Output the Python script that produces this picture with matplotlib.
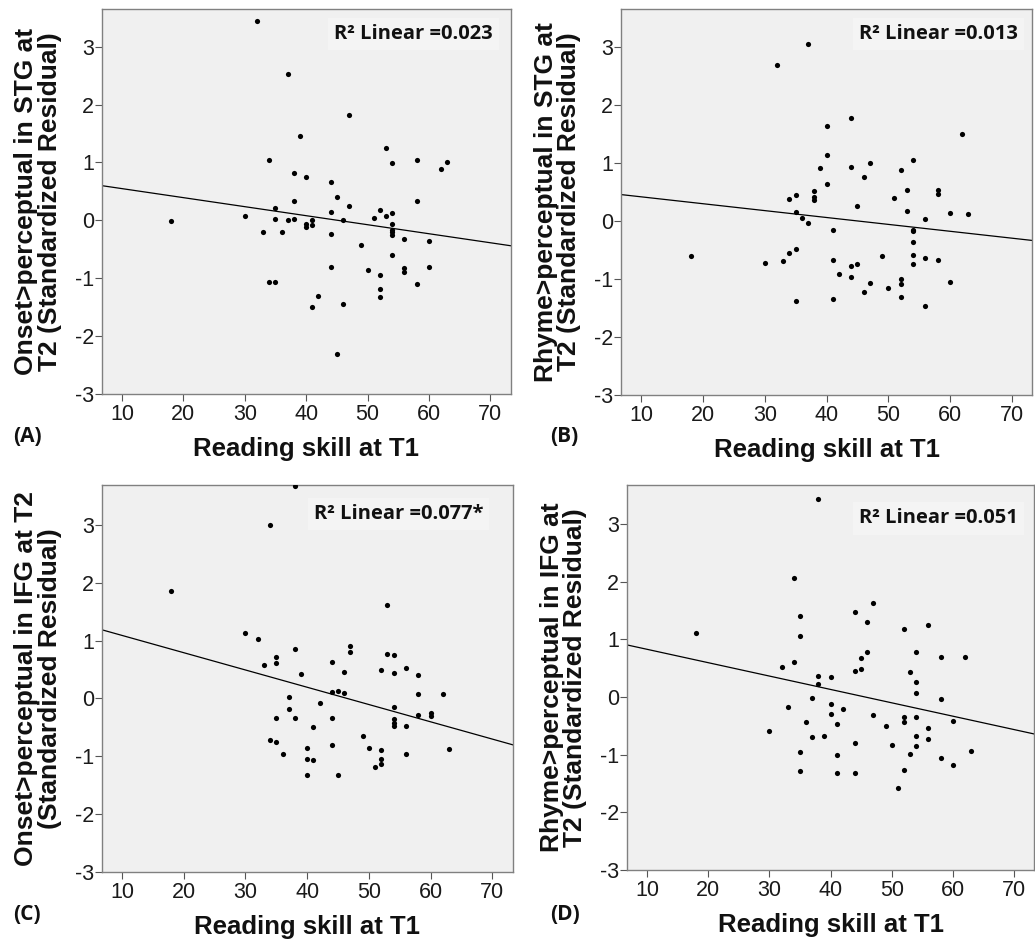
import numpy as np
import matplotlib
matplotlib.use('Agg')
import matplotlib.pyplot as plt

plt.rcParams['axes.unicode_minus'] = False

# ---------------- data ----------------
# Panel A: Onset>perceptual in STG
a_x = [32, 37, 47, 39, 53, 34, 54, 58, 62, 63, 38, 40, 44, 45, 38, 58, 35, 47, 52, 44,
       54, 30, 53, 51, 18, 35, 37, 38, 41, 46, 40, 40, 41, 54, 54, 54, 54, 33, 36, 44,
       56, 60, 49, 54, 44, 50, 56, 56, 60, 52, 34, 35, 58, 52, 42, 52, 41, 46, 45]
a_y = [3.44, 2.52, 1.82, 1.46, 1.25, 1.04, 0.99, 1.04, 0.89, 1.00, 0.82, 0.74, 0.66, 0.41,
       0.33, 0.34, 0.22, 0.24, 0.18, 0.14, 0.13, 0.07, 0.07, 0.04, -0.02, 0.02, 0.00, 0.02,
       0.00, 0.01, -0.06, -0.12, -0.08, -0.06, -0.16, -0.20, -0.25, -0.20, -0.21, -0.24,
       -0.33, -0.35, -0.42, -0.60, -0.81, -0.86, -0.82, -0.89, -0.81, -0.94, -1.07, -1.06,
       -1.10, -1.18, -1.30, -1.33, -1.49, -1.44, -2.31]

# Panel B: Rhyme>perceptual in STG
b_x = [37, 32, 44, 40, 62, 40, 54, 39, 44, 47, 46, 52, 40, 38, 38, 38, 53, 58, 58, 34,
       35, 51, 45, 35, 53, 60, 63, 36, 37, 56, 41, 54, 54, 54, 35, 34, 18, 30, 33, 41,
       49, 54, 54, 56, 58, 44, 45, 42, 44, 47, 52, 52, 60, 50, 46, 35, 41, 52, 56]
b_y = [3.05, 2.68, 1.77, 1.64, 1.49, 1.13, 1.04, 0.91, 0.92, 0.99, 0.75, 0.87, 0.64, 0.51,
       0.41, 0.36, 0.54, 0.54, 0.47, 0.37, 0.44, 0.40, 0.25, 0.16, 0.17, 0.13, 0.12, 0.05,
       -0.04, 0.04, -0.15, -0.15, -0.18, -0.36, -0.49, -0.55, -0.61, -0.72, -0.69, -0.68,
       -0.60, -0.59, -0.74, -0.64, -0.68, -0.78, -0.74, -0.91, -0.97, -1.07, -1.01, -1.09,
       -1.06, -1.16, -1.23, -1.38, -1.34, -1.32, -1.47]

# Panel C: Onset>perceptual in IFG
c_x = [38, 34, 18, 53, 30, 32, 38, 47, 47, 35, 35, 33, 44, 53, 54, 52, 56, 46, 54, 58,
       39, 44, 45, 46, 58, 62, 37, 42, 37, 54, 35, 38, 44, 54, 54, 54, 58, 60, 60, 41,
       56, 49, 34, 35, 44, 40, 50, 52, 63, 36, 56, 40, 41, 52, 52, 51, 40, 45]
c_y = [3.68, 3.00, 1.85, 1.62, 1.13, 1.02, 0.85, 0.90, 0.80, 0.72, 0.61, 0.58, 0.63, 0.76,
       0.75, 0.50, 0.53, 0.46, 0.44, 0.41, 0.42, 0.11, 0.13, 0.10, 0.08, 0.07, 0.02, -0.08,
       -0.19, -0.14, -0.33, -0.34, -0.33, -0.36, -0.43, -0.47, -0.29, -0.25, -0.30, -0.50,
       -0.48, -0.65, -0.71, -0.76, -0.81, -0.85, -0.85, -0.89, -0.88, -0.96, -0.96, -1.04,
       -1.07, -1.05, -1.14, -1.19, -1.32, -1.33]

# Panel D: Rhyme>perceptual in IFG
d_x = [38, 34, 47, 44, 35, 46, 56, 52, 18, 35, 54, 46, 58, 62, 45, 34, 32, 45, 44, 53,
       38, 40, 38, 54, 54, 37, 58, 40, 33, 42, 40, 47, 52, 52, 54, 60, 36, 41, 49, 56,
       30, 37, 39, 54, 56, 44, 50, 54, 35, 41, 53, 63, 58, 60, 35, 41, 44, 52, 51]
d_y = [3.44, 2.06, 1.64, 1.48, 1.40, 1.30, 1.25, 1.19, 1.12, 1.06, 0.79, 0.78, 0.70, 0.70,
       0.68, 0.61, 0.53, 0.49, 0.45, 0.44, 0.36, 0.34, 0.22, 0.27, 0.07, -0.02, -0.03,
       -0.12, -0.18, -0.20, -0.29, -0.31, -0.35, -0.43, -0.34, -0.41, -0.44, -0.46, -0.50,
       -0.54, -0.59, -0.70, -0.68, -0.68, -0.72, -0.80, -0.83, -0.85, -0.95, -1.01, -0.98,
       -0.94, -1.05, -1.18, -1.28, -1.31, -1.31, -1.26, -1.58]

y_labels = ["Onset>perceptual in STG at\nT2 (Standardized Residual)",
            "Rhyme>perceptual in STG at\nT2 (Standardized Residual)",
            "Onset>perceptual in IFG at T2\n(Standardized Residual)",
            "Rhyme>perceptual in IFG at\nT2 (Standardized Residual)"]
r2_texts = ["R² Linear =0.023", "R² Linear =0.013", "R² Linear =0.077*", "R² Linear =0.051"]
panel_letters = ["(A)", "(B)", "(C)", "(D)"]
x_label = "Reading skill at T1"
x_ticks = [10, 20, 30, 40, 50, 60, 70]
y_ticks = [-3, -2, -1, 0, 1, 2, 3]

# ---------------- layout ----------------
W, H = 1035, 950
fig = plt.figure(figsize=(W / 100, H / 100), dpi=100)

# axes boxes in pixels: left, top, right, bottom
boxes = [(101.7, 9, 510.7, 394),
         (621, 9, 1032, 395),
         (101.7, 485, 512.7, 872),
         (626.7, 485, 1034.3, 870)]
ylims = [(-3, 3.65), (-3, 3.65), (-3, 3.69), (-3, 3.68)]
r2_pos = [(0.957, 0.935), (0.966, 0.935), (0.928, 0.925), (0.960, 0.913)]
letter_pos = [(13, 437), (550, 437), (13, 914), (550, 915)]

data = [(a_x, a_y), (b_x, b_y), (c_x, c_y), (d_x, d_y)]

for i, ((l, t, r, b), (xs, ys)) in enumerate(zip(boxes, data)):
    ax = fig.add_axes([l / W, 1 - b / H, (r - l) / W, (b - t) / H])
    ax.set_facecolor('#f0f0f0')
    xs = np.array(xs, float)
    ys = np.array(ys, float)
    ax.scatter(xs, ys, s=14, color='black', zorder=3, linewidths=0, clip_on=True)
    xlim = (6.7, 73.3)
    ax.set_xlim(*xlim)
    ax.set_ylim(*ylims[i])
    k, c0 = np.polyfit(xs, ys, 1)
    xl = np.array(xlim)
    ax.plot(xl, c0 + k * xl, color='black', lw=0.9, zorder=2)

    ax.set_xticks(x_ticks)
    ax.set_yticks(y_ticks)
    ax.tick_params(axis='both', direction='out', length=5, width=0.8, color='#555555',
                   labelsize=15.5, labelcolor='#1a1a1a')
    ax.tick_params(axis='y', pad=0.5)
    ax.tick_params(axis='x', pad=2.5)
    for lab in ax.get_xticklabels() + ax.get_yticklabels():
        lab.set_family('Liberation Sans')
    for sp in ax.spines.values():
        sp.set_color('#808080')
        sp.set_linewidth(1.0)

    ax.set_xlabel(x_label, fontsize=18.5, fontweight='bold', family='Liberation Sans',
                  labelpad=8, color='#111111')
    ax.set_ylabel(y_labels[i], fontsize=19, fontweight='bold', family='Liberation Sans',
                  linespacing=0.98, color='#111111')
    ax.yaxis.set_label_coords(-0.097, 0.5)

    ax.text(r2_pos[i][0], r2_pos[i][1], r2_texts[i], transform=ax.transAxes,
            ha='right', va='center', fontsize=14.5, fontweight='bold', family='Open Sans',
            color='#111111',
            bbox=dict(boxstyle='square,pad=0.3', facecolor='#f4f4f4', edgecolor='none'))

    fig.text(letter_pos[i][0] / W, 1 - letter_pos[i][1] / H, panel_letters[i],
             ha='left', va='center', fontsize=15, fontweight='bold', family='Open Sans',
             color='#111111')

fig.savefig('out.png', dpi=100)
